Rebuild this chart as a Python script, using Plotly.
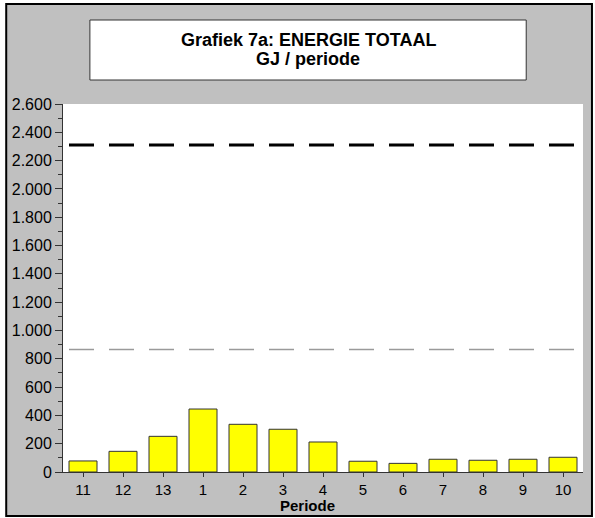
import plotly.graph_objects as go

periods = ["11", "12", "13", "1", "2", "3", "4", "5", "6", "7", "8", "9", "10"]
energy = [78, 146, 252, 445, 337, 302, 212, 76, 61, 90, 83, 90, 104]
ref_high = 2310
ref_low = 865
title_line1 = "Grafiek 7a: ENERGIE TOTAAL"
title_line2 = "GJ / periode"
x_title = "Periode"

W, H = 595, 518
L, R, T, B = 61, 583, 104, 472
pw, ph = R - L, B - T


def px(x):
    return (x - L) / pw


def py(y):
    return (B - y) / ph


FONT = "Liberation Sans, Arial, sans-serif"

xs = list(range(len(periods)))
fig = go.Figure()
fig.add_trace(go.Bar(x=xs, y=energy, width=0.7,
                     marker=dict(color="#ffff00", line=dict(color="#333333", width=1)),
                     showlegend=False, hoverinfo="y"))
x_line = [xs[0] - 0.35, xs[-1] + 0.35]
fig.add_trace(go.Scatter(x=x_line, y=[ref_high, ref_high], mode="lines",
                         line=dict(color="#000000", width=3, dash="25px,15px"),
                         showlegend=False))
fig.add_trace(go.Scatter(x=x_line, y=[ref_low, ref_low], mode="lines",
                         line=dict(color="#9a9a9a", width=1.5, dash="25px,15px"),
                         showlegend=False))

shapes = [
    dict(type="rect", xref="paper", yref="paper", x0=px(4), x1=px(592), y0=py(516), y1=py(4),
         fillcolor="#c0c0c0", line=dict(color="#000000", width=2), layer="below"),
    dict(type="rect", xref="paper", yref="paper", x0=0, x1=1, y0=0, y1=1,
         fillcolor="#ffffff", line=dict(width=0), layer="below"),
    dict(type="rect", xref="paper", yref="paper", x0=px(88), x1=px(526), y0=py(80), y1=py(20),
         fillcolor="#ffffff", line=dict(color="#333333", width=1), layer="below"),
]

annotations = [
    dict(text=f"<b>{title_line1}</b>", xref="paper", yref="paper", x=px(307), y=py(40),
         showarrow=False, xanchor="center", yanchor="middle",
         font=dict(family=FONT, size=18, color="#000000")),
    dict(text=f"<b>{title_line2}</b>", xref="paper", yref="paper", x=px(307), y=py(59),
         showarrow=False, xanchor="center", yanchor="middle",
         font=dict(family=FONT, size=18, color="#000000")),
    dict(text=f"<b>{x_title}</b>", xref="paper", yref="paper", x=px(306), y=py(505),
         showarrow=False, xanchor="center", yanchor="middle",
         font=dict(family=FONT, size=15, color="#000000")),
]

fig.update_layout(
    width=W, height=H,
    margin=dict(l=L, r=W - R, t=T, b=H - B, pad=0),
    paper_bgcolor="#ffffff", plot_bgcolor="rgba(0,0,0,0)",
    separators=",.",
    shapes=shapes, annotations=annotations,
    font=dict(family=FONT, size=16, color="#000000"),
    bargap=0.3,
)
fig.update_xaxes(range=[-0.5, len(periods) - 0.5], tickvals=xs, ticktext=periods,
                 showgrid=False, zeroline=False, showline=True, linecolor="#333333", linewidth=1,
                 ticks="outside", ticklen=4, tickcolor="#333333", tickfont=dict(size=15))
fig.update_yaxes(range=[0, 2600], dtick=200, tickformat=",d", separatethousands=True,
                 showgrid=False, zeroline=False, showline=True, linecolor="#333333", linewidth=1,
                 ticks="outside", ticklen=7, tickcolor="#333333", tickfont=dict(size=16),
                 minor=dict(dtick=100, ticks="outside", ticklen=4, tickcolor="#333333", showgrid=False))

fig.write_html("out.html", config={"displayModeBar": False},
               post_script="document.body.style.margin='0';document.body.style.overflow='hidden';")
